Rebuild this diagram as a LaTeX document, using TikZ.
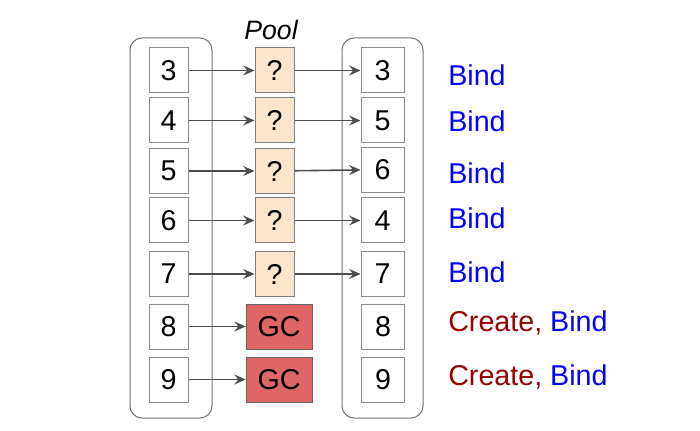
\documentclass[tikz,border=0pt]{standalone}
\usepackage{fontspec}
\setmainfont{Liberation Sans}
\usetikzlibrary{arrows.meta}
\definecolor{peach}{HTML}{FCE5CD}
\definecolor{gcred}{HTML}{E06666}
\definecolor{bindblue}{HTML}{0000FF}
\definecolor{createred}{HTML}{990000}
\tikzstyle{num} = [rectangle, minimum width=29.25pt, minimum height=33.75pt, inner sep=0pt, text centered, draw=black!45, line width=0.75pt, fill=white, font=\fontsize{21.5}{25}\selectfont]
\tikzstyle{q} = [num, fill=peach, draw=black!50]
\tikzstyle{gc} = [num, minimum width=49.5pt, fill=gcred, draw=black!60]
\tikzstyle{rnum} = [num, minimum width=32.25pt]
\tikzstyle{lbl} = [anchor=west, inner sep=0pt, font=\fontsize{21.5}{25}\selectfont]
\tikzstyle{arr} = [draw=black!70, line width=1.2pt, -{Stealth[length=8.5pt, width=7.5pt, inset=3pt]}]

\begin{document}
\begin{tikzpicture}[x=0.75pt, y=-0.75pt, node distance=79.5pt]
		\useasboundingbox (0,0) rectangle (700,431);
		% containers
		\draw[black!55, line width=0.75pt, rounded corners=9pt] (130,38) rectangle (212,418);
		\draw[black!55, line width=0.75pt, rounded corners=9pt] (342,38) rectangle (423,418);
		\node[font=\fontsize{20}{24}\selectfont\itshape] (pool) at (271,30) {Pool};
		
		% left column
		\node[num] (l3) at (168.5,70.5) {3};
		\node[num] (l4) at (168.5,120.5) {4};
		\node[num] (l5) at (168.5,171) {5};
		\node[num] (l6) at (168.5,220.5) {6};
		\node[num] (l7) at (168.5,274) {7};
		\node[num] (l8) at (168.5,326.5) {8};
		\node[num] (l9) at (168.5,379.5) {9};
		
		% pool
		\node[q,right of=l3](p3){?};
		\node[q,right of=l4](p4){?};
		\node[q,right of=l5](p5){?};
		\node[q,right of=l6](p6){?};
		\node[q,right of=l7](p7){?};
		\node[gc,right of=l8,xshift=3.5pt](p8){GC};
		\node[gc,right of=l9,xshift=3.5pt](p9){GC};
		
		% right column
		\node[rnum,right of=p3,xshift=1.5pt](r3){3};
		\node[rnum,right of=p4,xshift=1.5pt](r5){5};
		\node[rnum,right of=p5,xshift=1.5pt,yshift=1pt](r6){6};
		\node[rnum,right of=p6,xshift=1.5pt](r4){4};
		\node[rnum,right of=p7,xshift=1.5pt](r7){7};
		\node[rnum,right of=p8,xshift=-1.5pt](r8){8};
		\node[rnum,right of=p9,xshift=-1.5pt](r9){9};
		
		% labels
		\node[lbl,text=bindblue] (b3) at (448,75) {Bind};
		\node[lbl,text=bindblue] (b5) at (448,121) {Bind};
		\node[lbl,text=bindblue] (b6) at (448,173) {Bind};
		\node[lbl,text=bindblue] (b4) at (448,218) {Bind};
		\node[lbl,text=bindblue] (b7) at (448,272) {Bind};
		\node[lbl] (b8) at (448,323) {\textcolor{createred}{Create,} \textcolor{bindblue}{Bind}};
		\node[lbl] (b9) at (448,377) {\textcolor{createred}{Create,} \textcolor{bindblue}{Bind}};
		
		\draw[arr] (l3)--(p3);
		\draw[arr] (l4)--(p4);
		\draw[arr] (l5)--(p5);
		\draw[arr] (l6)--(p6);
		\draw[arr] (l7)--(p7);
		\draw[arr] (l8)--(p8);
		\draw[arr] (l9)--(p9);
		\draw[arr] (p3)--(r3);
		\draw[arr] (p4)--(r5);
		\draw[arr] (p5)--(r6);
		\draw[arr] (p6)--(r4);
		\draw[arr] (p7)--(r7);
		\end{tikzpicture}
\end{document}
